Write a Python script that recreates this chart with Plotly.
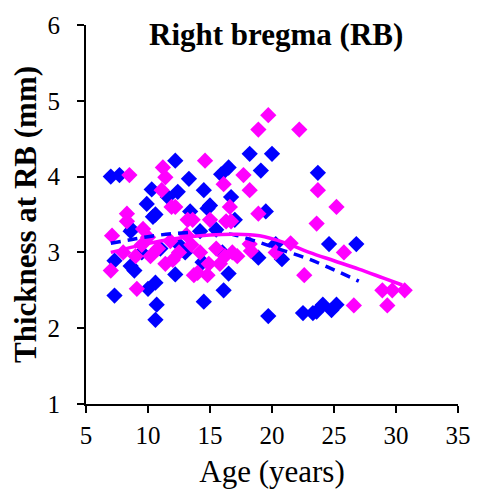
import plotly.graph_objects as go

# Blue series (age, thickness)
blue_age = [7.0, 7.7, 7.3, 12.2, 13.3, 10.3, 12.4, 9.9, 11.6, 10.4, 8.7, 13.4,
            18.2, 20.0, 16.5, 19.1, 15.9, 14.5, 16.7, 15.0, 19.5, 17.0, 23.7,
            24.6, 26.8, 24.1, 24.8, 25.2, 23.6, 22.5, 23.3, 14.2, 20.3, 18.9,
            20.8, 16.5, 16.1, 14.5, 19.7, 14.4, 10.0, 10.6, 12.2, 10.7, 10.6,
            8.9, 8.6, 7.3, 10.6, 14.8, 8.6, 11.0, 12.5, 9.5, 13.0, 15.5, 16.0]
blue_thk = [4.00, 4.02, 2.43, 4.21, 3.97, 3.83, 3.80, 3.64, 3.73, 3.47, 3.30, 3.54,
            4.30, 4.30, 4.12, 4.08, 4.03, 3.82, 3.73, 3.62, 3.54, 3.43, 4.05,
            3.11, 3.11, 2.31, 2.24, 2.31, 2.22, 2.20, 2.20, 3.28, 3.11, 2.93,
            2.91, 2.72, 2.50, 2.35, 2.16, 2.87, 2.52, 2.60, 2.71, 2.31, 2.11,
            2.76, 2.82, 2.89, 3.50, 3.58, 3.28, 3.05, 3.10, 3.00, 3.00, 3.30, 3.00]

# Pink series (age, thickness)
pink_age = [8.5, 11.2, 11.4, 11.1, 11.9, 12.2, 8.3, 8.3, 9.6, 7.1, 13.2, 19.7,
            18.9, 22.2, 14.6, 17.7, 16.1, 18.2, 23.7, 16.6, 18.9, 13.6, 15.0,
            16.3, 16.7, 25.2, 23.6, 25.8, 28.9, 29.7, 30.7, 29.3, 26.6, 18.2,
            21.5, 20.3, 22.6, 14.0, 7.0, 9.1, 13.7, 14.8, 14.9, 11.4, 13.1,
            9.5, 10.2, 10.8, 11.8, 12.5, 13.5, 14.2, 15.5, 16.2, 16.8, 17.2,
            9.0, 8.0, 15.8, 12.0, 10.0, 18.3]
pink_thk = [4.02, 4.12, 3.99, 3.82, 3.60, 3.60, 3.51, 3.41, 3.31, 3.22, 3.43, 4.81,
            4.62, 4.62, 4.21, 4.02, 3.90, 3.82, 3.82, 3.60, 3.51, 3.43, 3.43,
            3.41, 3.41, 3.60, 3.38, 3.00, 2.50, 2.50, 2.50, 2.30, 2.30, 3.11,
            3.12, 3.00, 2.70, 2.73, 2.76, 2.52, 2.70, 2.70, 2.85, 2.85, 3.23,
            3.10, 2.95, 3.05, 3.15, 3.00, 3.10, 3.00, 3.05, 2.95, 3.00, 2.95,
            2.95, 3.00, 2.85, 2.90, 3.20, 3.02]

# Trend lines
blue_trend_age = [7, 9, 11, 13, 15, 17, 19, 21, 23, 25, 27]
blue_trend_thk = [3.12, 3.18, 3.23, 3.26, 3.27, 3.23, 3.13, 3.02, 2.91, 2.77, 2.62]
pink_trend_age = [7, 9, 11, 13, 15, 17, 19, 21, 23, 25, 27, 29, 30.5]
pink_trend_thk = [3.00, 3.08, 3.15, 3.20, 3.23, 3.24, 3.22, 3.13, 3.00, 2.89, 2.78, 2.66, 2.57]

x_ticks = [5, 10, 15, 20, 25, 30, 35]
y_ticks = [1, 2, 3, 4, 5, 6]

BLUE = "#0000FF"
PINK = "#FF00FF"
FONT = "Liberation Serif"

fig = go.Figure()
fig.add_trace(go.Scatter(x=blue_age, y=blue_thk, mode="markers",
                         marker=dict(symbol="diamond", size=12.5, color=BLUE, line=dict(width=0)),
                         showlegend=False))
fig.add_trace(go.Scatter(x=pink_age, y=pink_thk, mode="markers",
                         marker=dict(symbol="diamond", size=12.5, color=PINK, line=dict(width=0)),
                         showlegend=False))
fig.add_trace(go.Scatter(x=blue_trend_age, y=blue_trend_thk, mode="lines",
                         line=dict(color=BLUE, width=3.5, dash="10px,7px", shape="spline"),
                         showlegend=False))
fig.add_trace(go.Scatter(x=pink_trend_age, y=pink_trend_thk, mode="lines",
                         line=dict(color=PINK, width=3.5, shape="spline"),
                         showlegend=False))

axis_common = dict(showgrid=False, zeroline=False, showline=True, linecolor="black",
                   linewidth=2, ticks="outside", ticklen=7, tickwidth=2, tickcolor="black",
                   tickfont=dict(family=FONT, size=25, color="black"), mirror=False)

fig.update_layout(
    width=483, height=495,
    margin=dict(l=86, r=16, t=20, b=89),
    paper_bgcolor="white", plot_bgcolor="white",
    xaxis=dict(range=[5, 35], tickvals=x_ticks, ticklabelstandoff=1,
               title=dict(text="Age (years)", font=dict(family=FONT, size=31, color="black"), standoff=12),
               **axis_common),
    yaxis=dict(range=[1, 6], tickvals=y_ticks, ticklabelstandoff=12,
               title=dict(text="<b>Thickness at RB (mm)</b>", font=dict(family=FONT, size=31, color="black"), standoff=2),
               **axis_common),
    annotations=[dict(text="<b>Right bregma (RB)</b>", xref="paper", yref="paper",
                      x=0.51, y=0.975, xanchor="center", yanchor="middle", showarrow=False,
                      font=dict(family=FONT, size=31, color="black"))],
)

fig.write_html("out.html")
